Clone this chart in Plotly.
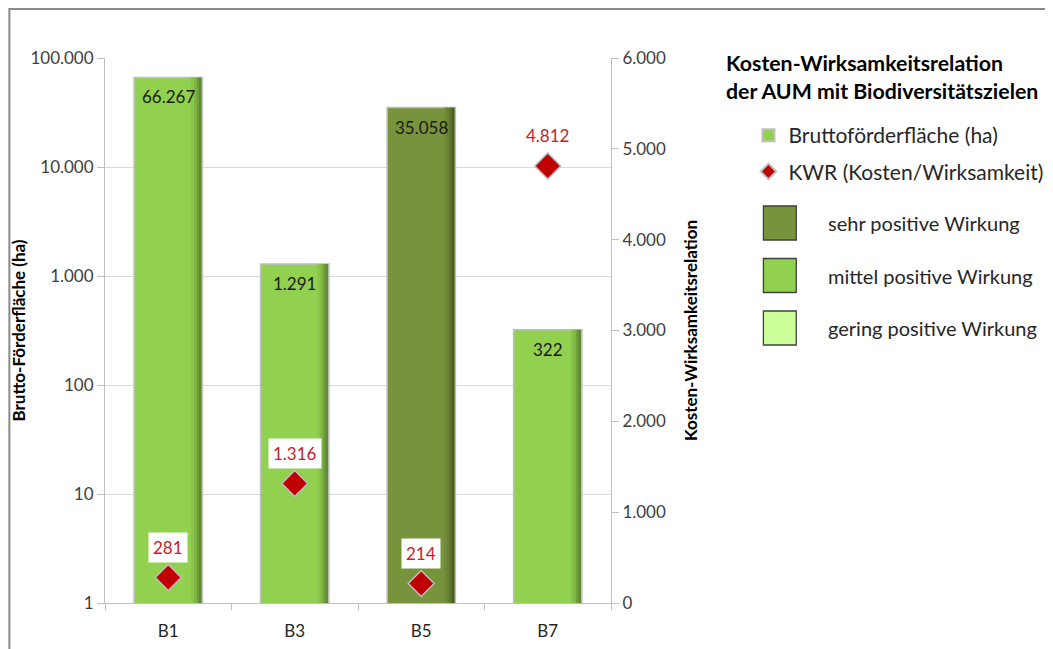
import math
import plotly.graph_objects as go

# ---------------- data ----------------
categories = ["B1", "B3", "B5", "B7"]
flaeche_ha = [66267, 1291, 35058, 322]
kwr = [281, 1316, 214, 4812]
wirkung = ["mittel", "mittel", "sehr", "mittel"]

left_tickvals = [1, 10, 100, 1000, 10000, 100000]
left_ticktext = ["1", "10", "100", "1.000", "10.000", "100.000"]
right_tickvals = [0, 1000, 2000, 3000, 4000, 5000, 6000]
right_ticktext = ["0", "1.000", "2.000", "3.000", "4.000", "5.000", "6.000"]

wirkung_keys = ["sehr", "mittel", "gering"]
wirkung_labels = ["sehr positive Wirkung", "mittel positive Wirkung", "gering positive Wirkung"]
wirkung_colors = {"sehr": "#77933C", "mittel": "#92D050", "gering": "#CCFF99"}
# darker shades used for the right-edge shading of the bars
edge_shades = {
    "mittel": ["#8AC64B", "#7FB645", "#70A03B", "#5E8631"],
    "sehr": ["#718C39", "#678034", "#5A722D", "#4A5E25"],
}

legend_title = "<b>Kosten-Wirksamkeitsrelation<br>der AUM mit Biodiversitätszielen</b>"
y1_title = "<b>Brutto-Förderfläche (ha)</b>"
y2_title = "<b>Kosten-Wirksamkeitsrelation</b>"

FONT = "Lato, 'Open Sans', sans-serif"
W, H = 1053, 649
OFF = 8  # page offset of the figure in the screenshot
L, T = 105 - OFF, 58 - OFF
R = W - (613 - OFF)
B = H - (603 - OFF)
PW, PH = W - L - R, H - T - B


def px(x):
    return (x - OFF - L) / PW


def py(y):
    return (H - B - (y - OFF)) / PH


fig = go.Figure()

bar_colors = [wirkung_colors[w] for w in wirkung]
fig.add_trace(go.Bar(
    x=categories, y=flaeche_ha, name="Bruttoförderfläche (ha)",
    marker=dict(color=bar_colors, line=dict(color="#BFBFBF", width=1.5)),
    width=0.54, offset=-0.27, legendgroup="a",
    hoverinfo="x+y",
))

# edge shading strips (same data, narrower bars)
strip_offsets = [0.180, 0.202, 0.222, 0.241]
strip_widths = [0.022, 0.020, 0.019, 0.021]
for k in range(4):
    fig.add_trace(go.Bar(
        x=categories, y=flaeche_ha,
        marker=dict(color=[edge_shades[w][k] for w in wirkung], line=dict(width=0)),
        width=strip_widths[k], offset=strip_offsets[k],
        showlegend=False, hoverinfo="skip",
    ))

fig.add_trace(go.Scatter(
    x=categories, y=kwr, yaxis="y2", mode="markers",
    name="KWR (Kosten/Wirksamkeit)", legendgroup="b",
    marker=dict(symbol="diamond", size=20, color="#C00000",
                line=dict(color="#BFBFBF", width=1.5)),
))

annotations = []
# bar value labels
for c, v in zip(categories, flaeche_ha):
    annotations.append(dict(
        x=c, y=math.log10(v), xref="x", yref="y", yanchor="top",
        yshift=-7, showarrow=False,
        text=f"{v:,}".replace(",", "."),
        font=dict(family=FONT, size=17, color="#1A1A1A"),
    ))
# KWR labels
for c, v in zip(categories, kwr):
    annotations.append(dict(
        x=c, y=v, xref="x", yref="y2", yanchor="middle",
        yshift=30, showarrow=False,
        text=f"{v:,}".replace(",", "."),
        bgcolor="white", borderpad=4,
        font=dict(family=FONT, size=17, color="#C8202B"),
    ))
# legend title
annotations.append(dict(
    x=px(726), y=py(48), xref="paper", yref="paper", xanchor="left", yanchor="top",
    align="left", showarrow=False, text=legend_title,
    font=dict(family=FONT, size=21.3, color="#000000"),
))

shapes = []
for i, (key, lab) in enumerate(zip(wirkung_keys, wirkung_labels)):
    top = 206 + 52.5 * i
    shapes.append(dict(
        type="rect", xref="paper", yref="paper",
        x0=px(766), x1=px(799), y0=py(top + 34), y1=py(top),
        fillcolor=wirkung_colors[key], line=dict(color="#404040", width=1.3),
    ))
    annotations.append(dict(
        x=px(829), y=py(top + 17), xref="paper", yref="paper",
        xanchor="left", yanchor="middle", showarrow=False, text=lab,
        font=dict(family=FONT, size=20, color="#262626"),
    ))

# outer frame (the figure edge)
shapes.append(dict(
    type="rect", xref="paper", yref="paper",
    x0=px(OFF + 1), x1=px(1090), y0=py(700), y1=py(OFF + 1),
    line=dict(color="#8A8A8A", width=2), fillcolor="rgba(0,0,0,0)", layer="below",
))

fig.update_layout(
    width=W, height=H,
    margin=dict(l=L, r=R, t=T, b=B),
    paper_bgcolor="white", plot_bgcolor="white",
    separators=",.",
    barmode="overlay",
    font=dict(family=FONT, color="#404040"),
    showlegend=True,
    legend=dict(
        x=px(751), y=py(115), xanchor="left", yanchor="top",
        font=dict(family=FONT, size=21, color="#262626"),
        traceorder="grouped", tracegroupgap=6, itemsizing="constant",
        bgcolor="rgba(0,0,0,0)",
    ),
    xaxis=dict(
        type="category", showline=True, linecolor="#BFBFBF", linewidth=1,
        ticks="outside", tickson="boundaries", ticklen=6, tickcolor="#BFBFBF",
        tickfont=dict(family=FONT, size=17, color="#262626"),
        ticklabelstandoff=13,
        showgrid=False, zeroline=False,
    ),
    yaxis=dict(
        type="log", range=[0, 5],
        tickvals=left_tickvals, ticktext=left_ticktext,
        showgrid=True, gridcolor="#D9D9D9", gridwidth=1,
        showline=True, linecolor="#BFBFBF", linewidth=1,
        ticks="outside", ticklen=7, tickcolor="#BFBFBF",
        tickfont=dict(family=FONT, size=17, color="#404040"),
        title=dict(text=y1_title, font=dict(family=FONT, size=17, color="#000000"), standoff=0),
        automargin=False, zeroline=False,
    ),
    yaxis2=dict(
        overlaying="y", side="right", range=[0, 6000],
        tickvals=right_tickvals, ticktext=right_ticktext,
        showgrid=False, zeroline=False,
        showline=True, linecolor="#BFBFBF", linewidth=1,
        ticks="outside", ticklen=7, tickcolor="#BFBFBF",
        tickfont=dict(family=FONT, size=17, color="#404040"),
        title=dict(text=y2_title, font=dict(family=FONT, size=17, color="#000000"), standoff=20),
        automargin=False,
    ),
    annotations=annotations,
    shapes=shapes,
)

fig.write_html("out.html")
